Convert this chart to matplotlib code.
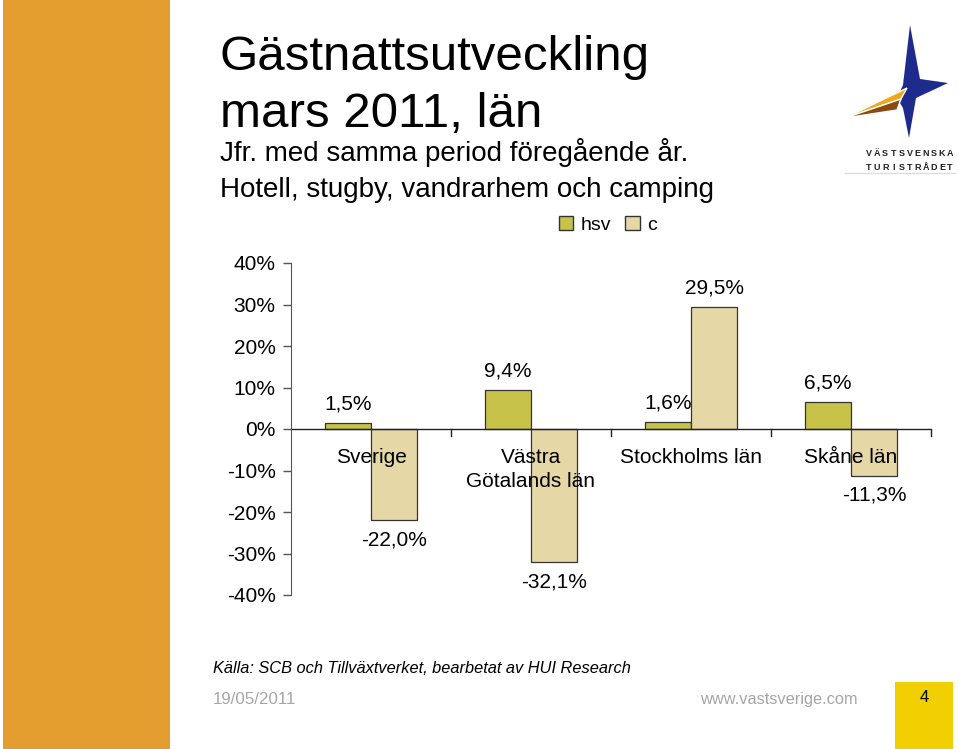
import numpy as np
import matplotlib
matplotlib.use("Agg")
import matplotlib.pyplot as plt
from matplotlib.patches import Polygon, Rectangle, Patch
from matplotlib.ticker import FuncFormatter

plt.rcParams["font.family"] = ["Liberation Sans", "DejaVu Sans"]

# ── Data ──────────────────────────────────────────────────────────────────────
regions = ["Sverige", "Västra\nGötalands län", "Stockholms län", "Skåne län"]
hsv     = [1.5, 9.4, 1.6, 6.5]
c_vals  = [-22.0, -32.1, 29.5, -11.3]
yticks  = [40, 30, 20, 10, 0, -10, -20, -30, -40]

HSV_COL = "#C6C24A"
C_COL   = "#E6D7A6"
W, H = 959, 749

fig = plt.figure(figsize=(W / 100, H / 100), dpi=100, facecolor="white")

# ── Decorations in pixel space ────────────────────────────────────────────────
deco = fig.add_axes([0, 0, 1, 1], zorder=0)
deco.set_xlim(0, W)
deco.set_ylim(H, 0)
deco.axis("off")
deco.add_patch(Rectangle((3, 0), 167, H, color="#E39E2F", lw=0))
deco.add_patch(Rectangle((895, 682), 58, 67, color="#F2CF00", lw=0))
deco.text(924, 698, "4", fontsize=12, ha="center", va="center", color="black")

# logo: star + wedge
star = [(910, 25), (920, 79), (948, 83), (916, 98), (909, 138),
        (903, 108), (897, 98), (903, 85)]
deco.add_patch(Polygon(star, closed=True, color="#1E2A8C", lw=0))
deco.add_patch(Polygon([(845, 118), (907, 88), (901, 99)], closed=True,
                       color="#F0A818", ec="white", lw=1))
deco.add_patch(Polygon([(845, 118), (901, 99), (897, 110)], closed=True,
                       color="#8C4A10", ec="white", lw=1))
for word, yy in [("VÄSTSVENSKA", 153), ("TURISTRÅDET", 168)]:
    xs = np.linspace(869, 950, len(word))
    for ch, xx in zip(word, xs):
        deco.text(xx, yy, ch, fontsize=6.5, fontweight="bold", ha="center",
                  va="center", color="#222222")
deco.plot([845, 955], [173, 173], color="#DDDDDD", lw=1)

# ── Titles ────────────────────────────────────────────────────────────────────
deco.text(220, 70, "Gästnattsutveckling", fontsize=35.5, va="baseline")
deco.text(220, 127, "mars 2011, län", fontsize=35.5, va="baseline")
deco.text(220, 161, "Jfr. med samma period föregående år.", fontsize=20, va="baseline")
deco.text(220, 197, "Hotell, stugby, vandrarhem och camping", fontsize=20, va="baseline")

deco.text(213, 673, "Källa: SCB och Tillväxtverket, bearbetat av HUI Research",
          fontsize=11.8, style="italic", va="baseline")
deco.text(213, 704, "19/05/2011", fontsize=12.2, color="#A6A6A6", va="baseline")
deco.text(700, 704, "www.vastsverige.com", fontsize=11.8, color="#A6A6A6", va="baseline")

# ── Chart ─────────────────────────────────────────────────────────────────────
ax = fig.add_axes([291 / W, 1 - 595 / H, 640 / W, 332 / H], zorder=2)
ax.patch.set_alpha(0)
x = np.arange(len(regions))
bw = 0.2875
b1 = ax.bar(x - bw / 2, hsv, bw, color=HSV_COL, edgecolor="#333333", lw=0.9, label="hsv")
b2 = ax.bar(x + bw / 2, c_vals, bw, color=C_COL, edgecolor="#333333", lw=0.9, label="c")

ax.set_xlim(-0.5, len(regions) - 0.5)
ax.set_ylim(-40, 40)
ax.set_yticks(yticks)
ax.yaxis.set_major_formatter(FuncFormatter(lambda v, p: f"{v:.0f}%"))
ax.tick_params(axis="y", direction="out", length=6, width=1, color="#555555",
               labelsize=15, pad=5)
for s in ["top", "right", "bottom"]:
    ax.spines[s].set_visible(False)
ax.spines["left"].set_color("#555555")
ax.set_xticks([])

# zero line with downward ticks at group boundaries
ax.axhline(0, color="#222222", lw=1)
for b in np.arange(-0.5, len(regions), 1.0)[1:]:
    ax.plot([b, b], [0, -1.6], color="#222222", lw=1, clip_on=False)

for xi, name in zip(x, regions):
    ax.text(xi, -4.6, name, ha="center", va="top", fontsize=15, linespacing=1.3)

def lab(v):
    return f"{v:.1f}%".replace(".", ",")

for xi, v in zip(x, hsv):
    ax.text(xi - bw / 2, v + 2.3, lab(v), ha="center", va="bottom", fontsize=15)
for xi, v in zip(x, c_vals):
    if v >= 0:
        ax.text(xi + bw / 2, v + 2.3, lab(v), ha="center", va="bottom", fontsize=15)
    else:
        ax.text(xi + bw / 2, v - 2.4, lab(v), ha="center", va="top", fontsize=15)

handles = [Patch(facecolor=HSV_COL, edgecolor="#333333", label="hsv"),
           Patch(facecolor=C_COL, edgecolor="#333333", label="c")]
fig.legend(handles=handles, loc="center", bbox_to_anchor=(608 / W, 1 - 225 / H),
           ncol=2, frameon=False, fontsize=14, handlelength=0.75, handleheight=0.75,
           columnspacing=0.7, handletextpad=0.4)

fig.savefig("out.png", dpi=100, facecolor="white")
